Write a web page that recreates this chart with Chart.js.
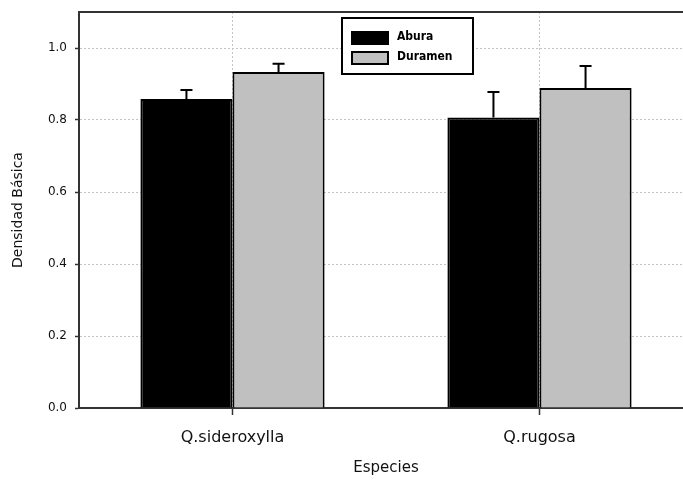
<!DOCTYPE html>
<html>
<head>
<meta charset="utf-8">
<script src="https://cdn.jsdelivr.net/npm/chart.js@4"></script>
<style>
  html, body { margin: 0; padding: 0; background: #fff; overflow: hidden; }
  canvas { display: block; }
</style>
</head>
<body>
<canvas id="c" width="700" height="482"></canvas>
<script>
// Densidad básica por especie: albura (Abura) y duramen
const categories = ['Q.sideroxylla', 'Q.rugosa'];
const seriesNames = ['Abura', 'Duramen'];
const aburaValues = [0.858, 0.807];
const aburaErrors = [0.025, 0.071];
const duramenValues = [0.933, 0.889];
const duramenErrors = [0.023, 0.061];
const yTicks = [0.0, 0.2, 0.4, 0.6, 0.8, 1.0];

const FONT = "'DejaVu Sans', 'Liberation Sans', sans-serif";
const AXIS = '#333333';
const GRID = '#c4c4c4';

// upward-only error bars with a small cap
const errorBars = {
  id: 'errorBars',
  afterDatasetsDraw(chart) {
    const ctx = chart.ctx;
    const y = chart.scales.y;
    chart.data.datasets.forEach((ds, di) => {
      const meta = chart.getDatasetMeta(di);
      meta.data.forEach((bar, i) => {
        const top = y.getPixelForValue(ds.data[i] + ds.errors[i]);
        ctx.save();
        ctx.strokeStyle = '#000';
        ctx.lineWidth = 2;
        ctx.beginPath();
        ctx.moveTo(bar.x, bar.y);
        ctx.lineTo(bar.x, top);
        ctx.moveTo(bar.x - 6, top);
        ctx.lineTo(bar.x + 6, top);
        ctx.stroke();
        ctx.restore();
      });
    });
  }
};

// frame line along the top of the plot
const topFrame = {
  id: 'topFrame',
  afterDraw(chart) {
    const { ctx, chartArea } = chart;
    ctx.save();
    ctx.strokeStyle = AXIS;
    ctx.lineWidth = 2;
    ctx.beginPath();
    ctx.moveTo(chartArea.left - 1, chartArea.top);
    ctx.lineTo(chartArea.right, chartArea.top);
    ctx.stroke();
    ctx.restore();
  }
};

// boxed legend inside the plot
const boxLegend = {
  id: 'boxLegend',
  afterDraw(chart) {
    const { ctx, chartArea } = chart;
    const bx = chartArea.left + 263, by = chartArea.top + 6, bw = 131, bh = 56;
    ctx.save();
    ctx.fillStyle = '#fff';
    ctx.fillRect(bx, by, bw, bh);
    ctx.strokeStyle = '#000';
    ctx.lineWidth = 2;
    ctx.strokeRect(bx, by, bw, bh);
    ctx.font = "bold 12px 'Liberation Sans Narrow', 'DejaVu Sans Condensed', sans-serif";
    ctx.textBaseline = 'middle';
    chart.data.datasets.forEach((ds, i) => {
      const sy = by + 14 + i * 20;
      ctx.fillStyle = ds.backgroundColor;
      ctx.fillRect(bx + 10, sy, 36, 12);
      ctx.lineWidth = 2;
      ctx.strokeStyle = '#000';
      ctx.strokeRect(bx + 10, sy, 36, 12);
      ctx.fillStyle = '#000';
      ctx.fillText(ds.label, bx + 55, sy + 5);
    });
    ctx.restore();
  }
};

new Chart(document.getElementById('c'), {
  type: 'bar',
  data: {
    labels: categories,
    datasets: [
      { label: seriesNames[0], data: aburaValues, errors: aburaErrors,
        backgroundColor: '#000000', borderColor: '#000000', borderWidth: 2 },
      { label: seriesNames[1], data: duramenValues, errors: duramenErrors,
        backgroundColor: '#c0c0c0', borderColor: '#000000', borderWidth: 2 }
    ]
  },
  options: {
    responsive: false,
    animation: false,
    devicePixelRatio: 1,
    layout: { padding: { top: 12, right: 7, left: 0, bottom: 0 } },
    datasets: { bar: { categoryPercentage: 0.6, barPercentage: 1.0 } },
    plugins: { legend: { display: false }, tooltip: { enabled: false } },
    scales: {
      x: {
        offset: true,
        afterFit(scale) { scale.height = 74; scale.paddingLeft = 0; scale.paddingRight = 0; },
        grid: { offset: false, color: GRID, lineWidth: 1, tickLength: 7,
                tickColor: AXIS, tickWidth: 1.5 },
        border: { color: AXIS, width: 2, dash: [2, 2] },
        ticks: { color: '#111', font: { family: FONT, size: 16 }, padding: 13 },
        title: { display: true, text: 'Especies', color: '#111',
                 font: { family: FONT, size: 15 }, padding: { top: 0, bottom: 5 } }
      },
      y: {
        min: 0, max: 1.1,
        afterFit(scale) { scale.width = 79; scale.paddingTop = 0; scale.paddingBottom = 0; },
        afterBuildTicks(scale) { scale.ticks = yTicks.map(v => ({ value: v })); },
        grid: { color: GRID, lineWidth: 1, tickLength: 4, tickColor: AXIS, tickWidth: 1.5 },
        border: { color: AXIS, width: 2, dash: [2, 2] },
        ticks: { color: '#111', font: { family: FONT, size: 12 }, padding: 8,
                 callback: v => Number(v).toFixed(1) },
        title: { display: true, text: 'Densidad Básica', color: '#111',
                 font: { family: FONT, size: 14 }, padding: { top: 10, bottom: 0 } }
      }
    }
  },
  plugins: [errorBars, topFrame, boxLegend]
});
</script>
</body>
</html>
